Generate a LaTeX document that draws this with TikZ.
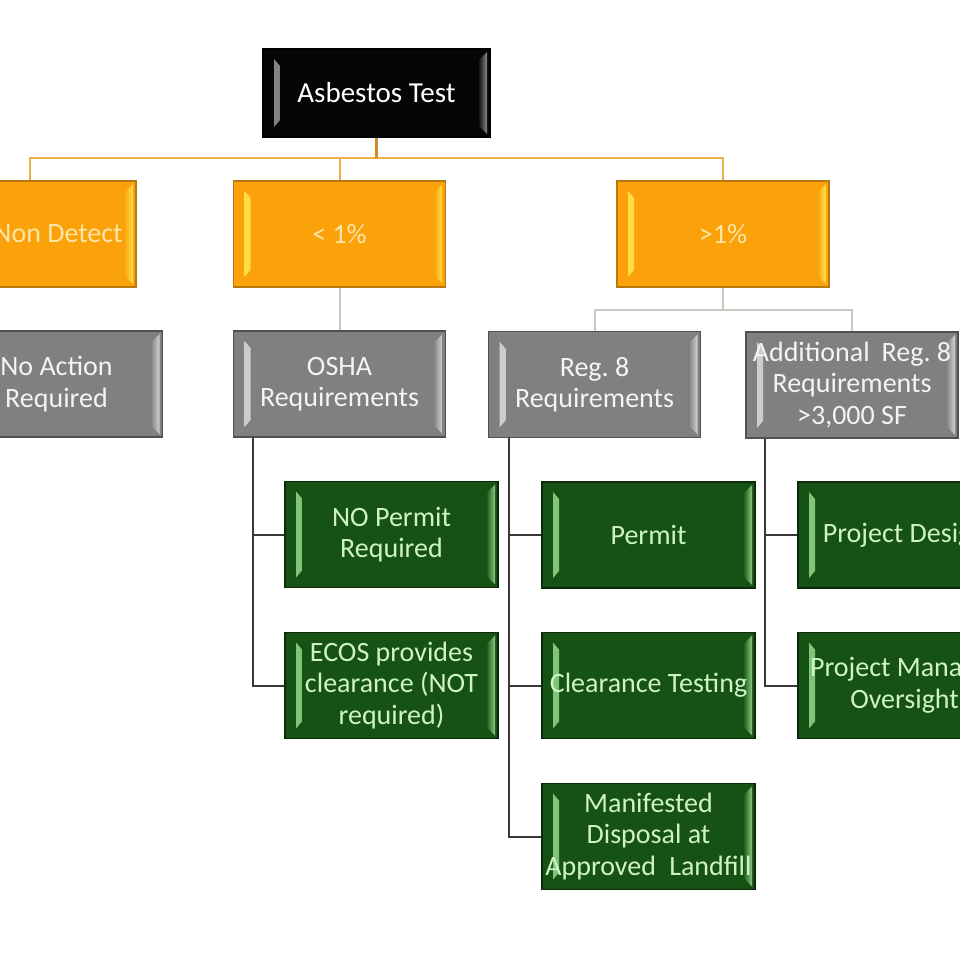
\documentclass[tikz,border=0pt]{standalone}
\usepackage{fontspec}
\setmainfont{Carlito}
\frenchspacing
\definecolor{blk}{HTML}{050505}
\definecolor{blkhi}{HTML}{8A8A8A}
\definecolor{org}{HTML}{FBA109}
\definecolor{orgedge}{HTML}{B87A10}
\definecolor{orghi}{HTML}{FFE04A}
\definecolor{orgtxt}{HTML}{FDE6A8}
\definecolor{gry}{HTML}{808080}
\definecolor{gryedge}{HTML}{505050}
\definecolor{gryhi}{HTML}{D2D2D2}
\definecolor{grytxt}{HTML}{F4F4F4}
\definecolor{grn}{HTML}{165213}
\definecolor{grnedge}{HTML}{0C2A0A}
\definecolor{grnhi}{HTML}{86CC80}
\definecolor{grntxt}{HTML}{CFF3C6}
\definecolor{lnorg}{HTML}{E6B04C}
\definecolor{lnstem}{HTML}{D38A2A}
\definecolor{lngry}{HTML}{C9C9C1}
\definecolor{lngrn}{HTML}{383838}
\tikzset{
  txtfont/.style={font=\fontsize{28}{31.5}\selectfont},
  tbox/.style n args={4}{rectangle, draw=#2, line width=1.2pt, fill=#1, text=#3,
    minimum width=212pt, minimum height=106pt, inner sep=0pt, align=center, txtfont,
    path picture={
      \fill[left color=#4, right color=#1]
        ([xshift=11pt,yshift=10pt]path picture bounding box.south west) --
        ([xshift=11pt,yshift=-10pt]path picture bounding box.north west) --
        ([xshift=17pt,yshift=-17pt]path picture bounding box.north west) --
        ([xshift=17pt,yshift=17pt]path picture bounding box.south west) -- cycle;
      \fill[left color=#1, right color=#4]
        ([xshift=-3pt,yshift=3pt]path picture bounding box.south east) --
        ([xshift=-3pt,yshift=-3pt]path picture bounding box.north east) --
        ([xshift=-12pt,yshift=-12pt]path picture bounding box.north east) --
        ([xshift=-12pt,yshift=12pt]path picture bounding box.south east) -- cycle;
    }},
  topbox/.style={tbox={blk}{black}{white}{blkhi}, minimum width=227pt, minimum height=88pt, font=\fontsize{29}{32}\selectfont},
  obox/.style={tbox={org}{orgedge}{orgtxt}{orghi}},
  gbox/.style={tbox={gry}{gryedge}{grytxt}{gryhi}},
  vbox/.style={tbox={grn}{grnedge}{grntxt}{grnhi}, minimum width=213pt},
  otext/.style={text=orgtxt, txtfont, inner sep=0pt},
  stemline/.style={draw=lnstem, line width=3pt},
  oline/.style={draw=lnorg, line width=2pt},
  gline/.style={draw=lngry, line width=2pt},
  vline/.style={draw=lngrn, line width=2pt},
}
\begin{document}
\begin{tikzpicture}[x=1pt,y=-1pt]
\useasboundingbox (0,0) rectangle (960,960);
\clip (0,0) rectangle (960,960);
\fill[white] (0,0) rectangle (960,960);

% nodes
\node[topbox] (at) at (376.5,93) {Asbestos Test};
\node[obox] (nd) at (30,234) {};
\node[otext] (ndt) at (58,234) {Non Detect};
\node[obox] (lt) at (339.5,234) {< 1\%};
\node[obox] (gt) at (723,234) {>1\%};

\node[gbox] (na) at (56.5,384) {No Action\\Required};
\node[gbox] (osha) at (339.5,384) {OSHA\\Requirements};
\node[gbox] (r8) at (594.5,384.5) {Reg. 8\\Requirements};
\node[gbox] (ad) at (852,385) {\makebox[0pt]{Additional\hspace{0.2em} Reg. 8}\\Requirements\\>3,000 SF};

\node[vbox] (nop) at (391.5,534.5) {NO Permit\\Required};
\node[vbox] (ecos) at (391.5,685.5) {ECOS provides\\clearance (NOT\\required)};
\node[vbox] (perm) at (648.5,535) {Permit};
\node[vbox] (clr) at (648.5,685.5) {\makebox[0pt]{Clearance Testing}};
\node[vbox] (man) at (648.5,836.5) {Manifested\\Disposal at\\\makebox[0pt]{Approved\hspace{0.25em} Landfill}};
\node[vbox] (pd) at (904.5,535) {\makebox[0pt]{Project Design}};
\node[vbox] (pm) at (904.5,685.5) {\makebox[0pt]{Project Manager}\\Oversight};

% bus coordinates
\coordinate (obus) at (0,158);
\coordinate (gbus) at (0,310);
\coordinate (ov) at ([xshift=20pt]osha.south west);
\coordinate (rv) at ([xshift=21pt]r8.south west);
\coordinate (av) at ([xshift=20pt]ad.south west);

% orange tree
\draw[oline] (nd.north) |- (obus -| gt.north) -- (gt.north);
\draw[oline] (lt.north) -- (lt.north |- obus);
\draw[stemline] (at.south) -- (at.south |- obus);

% gray tree
\draw[gline] (lt.south) -- (osha.north);
\draw[gline] (gt.south) -- (gt.south |- gbus);
\draw[gline] (r8.north) |- (gbus -| ad.north) -- (ad.north);

% green trees
\draw[vline] (ov) |- (ecos.west);
\draw[vline] (ov |- nop.west) -- (nop.west);
\draw[vline] (rv) |- (man.west);
\draw[vline] (rv |- perm.west) -- (perm.west);
\draw[vline] (rv |- clr.west) -- (clr.west);
\draw[vline] (av) |- (pm.west);
\draw[vline] (av |- pd.west) -- (pd.west);
\end{tikzpicture}
\end{document}
